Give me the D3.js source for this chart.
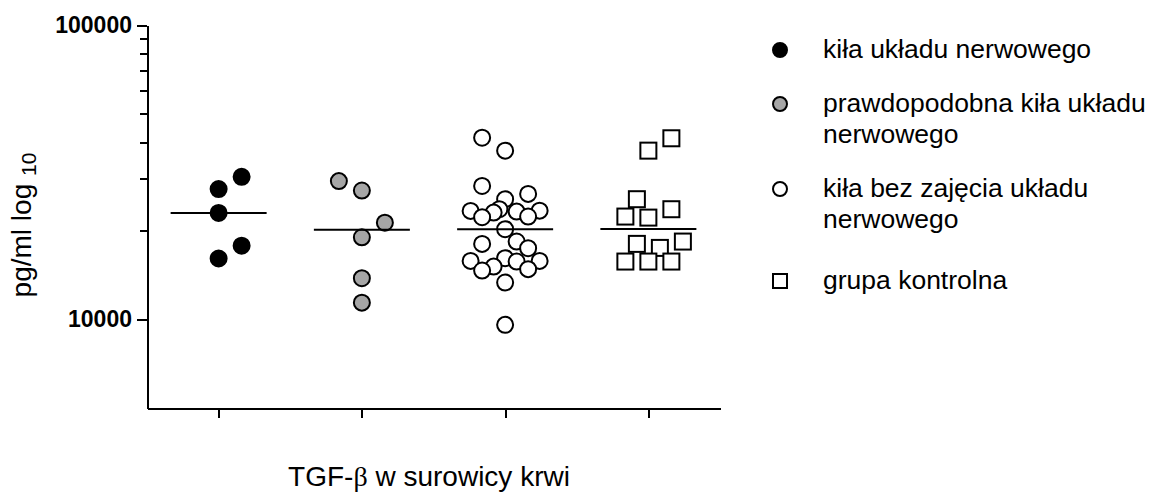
<!DOCTYPE html>
<html>
<head>
<meta charset="utf-8">
<script src="https://d3js.org/d3.v7.min.js"></script>
<style>
  body { margin: 0; background: #fff; }
  text { font-family: Arial, "Liberation Sans", sans-serif; fill: #000; }
  .axis path, .axis line { stroke: #000; stroke-width: 2px; shape-rendering: crispEdges; }
  .axis text { font-size: 23px; font-weight: bold; fill: #000; font-family: Arial, "Liberation Sans", sans-serif; }
  .legend text { font-size: 26.5px; }
</style>
</head>
<body>
<div id="chart"></div>
<script>

// groups, left to right
var groups = ["neuro", "probable", "noNeuro", "control"];
var legendLabels = [
  ["kiła układu nerwowego"],
  ["prawdopodobna kiła układu", "nerwowego"],
  ["kiła bez zajęcia układu", "nerwowego"],
  ["grupa kontrolna"]
];

// TGF-beta (pg/ml), plus the scatter lane of each point
var neuroValues = [30500, 27700, 23000, 17800, 16100];
var neuroLanes  = [2, 0, 0, 2, 0];

var probableValues = [29500, 27400, 21300, 19000, 13800, 11400];
var probableLanes  = [-2, 0, 2, 0, 0, 0];

var noNeuroValues = [41420, 37430, 28400, 26680, 25600, 23670, 23410, 23360, 23230, 23050,
                     22350, 22240, 20250, 18380, 18050, 17450, 16140, 15800, 15800, 15720,
                     15110, 14810, 14650, 13340, 9580];
var noNeuroLanes  = [-2, 0, -2, 2, 0, -0.5, 3, -3, 1, -1,
                     2, -2, 0, 1, -2, 2, 0, -3, 3, 1,
                     -1, 2, -2, 0, 0];

var controlValues = [41230, 37430, 25600, 23670, 22350, 22170, 18380, 18050, 17490, 15720, 15720, 15720];
var controlLanes  = [2, 0, -1, 2, -2, 0, 3, -1, 1, -2, 0, 2];

var majorTicks = [10000, 100000];
var minorTicks = [20000, 30000, 40000, 50000, 60000, 70000, 80000, 90000];

// build the series table
var series = [
  { key: "neuro",    values: neuroValues,    lanes: neuroLanes,    shape: "circle", fill: "#000" },
  { key: "probable", values: probableValues, lanes: probableLanes, shape: "circle", fill: "#a6a6a6" },
  { key: "noNeuro",  values: noNeuroValues,  lanes: noNeuroLanes,  shape: "circle", fill: "#fff" },
  { key: "control",  values: controlValues,  lanes: controlLanes,  shape: "square", fill: "#fff" }
];

var width = 1154, height = 498;
var laneWidth = 11.5, r = 8;

var svg = d3.select("#chart").append("svg")
    .attr("width", width)
    .attr("height", height);

var x = d3.scalePoint().domain(groups).range([147, 720]).padding(0.5);
var y = d3.scaleLog().domain([5000, 100000]).range([408, 25]);

// y axis
svg.append("g")
    .attr("class", "axis")
    .attr("transform", "translate(147,0)")
    .call(d3.axisLeft(y).tickValues(majorTicks).tickFormat(d3.format("d")).tickSize(10).tickSizeOuter(0).tickPadding(5));

svg.append("g")
    .attr("class", "axis")
    .attr("transform", "translate(147,0)")
    .call(d3.axisLeft(y).tickValues(minorTicks).tickFormat("").tickSize(7).tickSizeOuter(0))
    .select(".domain").remove();

// x axis
svg.append("g")
    .attr("class", "axis")
    .attr("transform", "translate(0,408)")
    .call(d3.axisBottom(x).tickFormat("").tickSize(10).tickSizeOuter(0));

// points
series.forEach(function(s) {
  var pts = s.values.map(function(v, i) { return { v: v, lane: s.lanes[i] }; });
  var g = svg.append("g");
  if (s.shape == "circle") {
    g.selectAll("circle").data(pts).enter().append("circle")
        .attr("cx", function(d) { return x(s.key) + d.lane * laneWidth; })
        .attr("cy", function(d) { return y(d.v); })
        .attr("r", r)
        .attr("fill", s.fill)
        .attr("stroke", "#000")
        .attr("stroke-width", 2);
  } else {
    g.selectAll("rect").data(pts).enter().append("rect")
        .attr("x", function(d) { return x(s.key) + d.lane * laneWidth - r; })
        .attr("y", function(d) { return y(d.v) - r; })
        .attr("width", 2 * r)
        .attr("height", 2 * r)
        .attr("fill", s.fill)
        .attr("stroke", "#000")
        .attr("stroke-width", 2);
  }
  // median line
  var m = d3.median(s.values);
  svg.append("line")
      .attr("x1", x(s.key) - 48)
      .attr("x2", x(s.key) + 48)
      .attr("y1", y(m))
      .attr("y2", y(m))
      .attr("stroke", "#000")
      .attr("stroke-width", 2);
});

// axis titles
var yt = svg.append("text")
    .attr("transform", "translate(31,225) rotate(-90)")
    .attr("text-anchor", "middle")
    .style("font-size", "28px");
yt.append("tspan").text("pg/ml log ");
yt.append("tspan").attr("dy", 5).style("font-size", "21px").text("10");

var xt = svg.append("text")
    .attr("x", 429)
    .attr("y", 486)
    .attr("text-anchor", "middle")
    .style("font-size", "28px");
xt.append("tspan").text("TGF-");
xt.append("tspan").style("font-family", "'Liberation Serif', serif").text("β");
xt.append("tspan").text(" w surowicy krwi");

// legend
var legendY = [50, 104, 189, 281];
var legend = svg.append("g").attr("class", "legend");
series.forEach(function(s, i) {
  var cy = legendY[i];
  if (s.shape == "circle") {
    legend.append("circle").attr("cx", 780).attr("cy", cy).attr("r", 7)
        .attr("fill", s.fill).attr("stroke", "#000").attr("stroke-width", 2);
  } else {
    legend.append("rect").attr("x", 773).attr("y", cy - 7).attr("width", 14).attr("height", 14)
        .attr("fill", s.fill).attr("stroke", "#000").attr("stroke-width", 2);
  }
  var t = legend.append("text").attr("x", 823).attr("y", cy + 8);
  legendLabels[i].forEach(function(line, j) {
    t.append("tspan").attr("x", 823).attr("dy", j == 0 ? 0 : 31).text(line);
  });
});

</script>
</body>
</html>
